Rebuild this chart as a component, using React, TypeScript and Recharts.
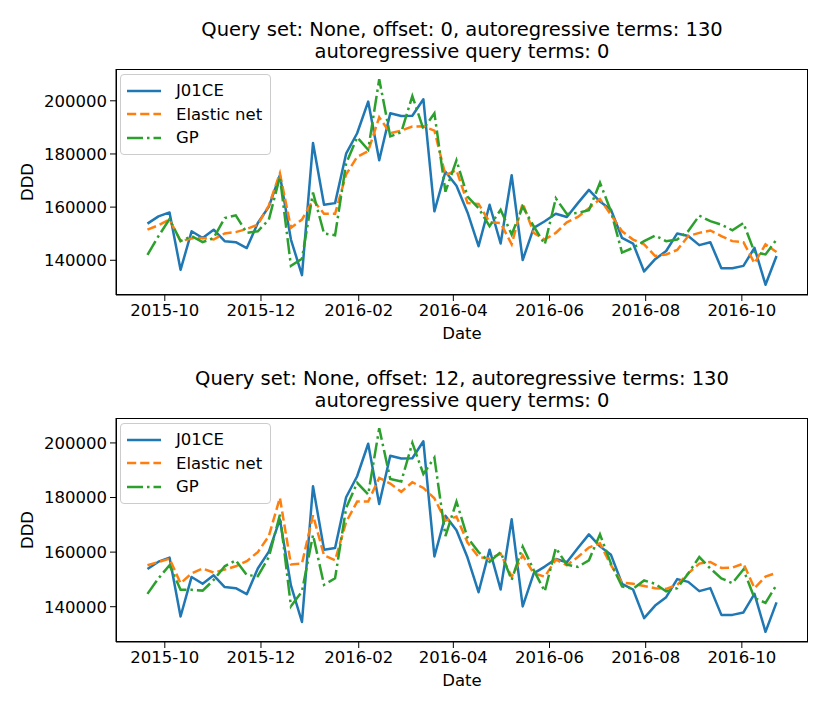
import React from "react";
import { LineChart, Line, XAxis, YAxis, Legend } from "recharts";

// weekly observations (Sundays)
const dates = [
  "2015-09-20", "2015-09-27", "2015-10-04", "2015-10-11", "2015-10-18", "2015-10-25",
  "2015-11-01", "2015-11-08", "2015-11-15", "2015-11-22", "2015-11-29", "2015-12-06",
  "2015-12-13", "2015-12-20", "2015-12-27", "2016-01-03", "2016-01-10", "2016-01-17",
  "2016-01-24", "2016-01-31", "2016-02-07", "2016-02-14", "2016-02-21", "2016-02-28",
  "2016-03-06", "2016-03-13", "2016-03-20", "2016-03-27", "2016-04-03", "2016-04-10",
  "2016-04-17", "2016-04-24", "2016-05-01", "2016-05-08", "2016-05-15", "2016-05-22",
  "2016-05-29", "2016-06-05", "2016-06-12", "2016-06-19", "2016-06-26", "2016-07-03",
  "2016-07-10", "2016-07-17", "2016-07-24", "2016-07-31", "2016-08-07", "2016-08-14",
  "2016-08-21", "2016-08-28", "2016-09-04", "2016-09-11", "2016-09-18", "2016-09-25",
  "2016-10-02", "2016-10-09", "2016-10-16", "2016-10-23",
];

const j01ce = [
  153800, 156500, 158000, 136400, 150900, 148400, 151500, 147200, 146800, 144600,
  154000, 160200, 172000, 147800, 134400, 184100, 160900, 161500, 180100,
  187800, 199700, 177600, 195300, 194300, 194400, 200600, 158400, 173300, 168000,
  158000, 145300, 160900, 146300, 172000, 140100, 152200, 154700, 157500, 156300,
  161500, 166500, 162100, 159000, 148400, 146300, 135800, 140400, 143500, 150100,
  149100, 145700, 146800, 137000, 137000, 137900, 144700, 130800, 141600,
];

// offset 0
const enetTop = [
  151500, 153200, 155300, 147200, 148200, 148400, 147800, 150100, 150600, 151800,
  153400, 160600, 172700, 152200, 155300, 162700, 157500, 157500, 172300,
  178900, 181100, 193800, 187800, 188800, 190300, 190400, 188800, 172000, 173900,
  161500, 161200, 154300, 154000, 146000, 161500, 150300, 147800, 150300, 154300,
  156300, 159600, 163000, 157100, 150900, 147800, 146000, 141600, 142200, 143900,
  149100, 150300, 151200, 149100, 147200, 146800, 138900, 146000, 143100,
];
const gpTop = [
  142000, 149100, 155500, 147200, 149100, 146800, 148400, 155900, 156900, 150300,
  150900, 155300, 171400, 137900, 140600, 165500, 150100, 149400, 176400,
  186300, 181600, 208100, 186600, 188200, 201800, 189400, 195300, 165800, 177600,
  164000, 159600, 152800, 159000, 149700, 160200, 152800, 146000, 163300, 157400,
  157800, 158800, 169200, 158400, 142900, 144700, 147200, 149300, 147200, 147800,
  151000, 156800, 154700, 153400, 151300, 154000, 143100, 142200, 147800,
];

// offset 12
const enetBottom = [
  155200, 156400, 157600, 148600, 152200, 154000, 152500, 153600, 154800, 156700,
  160000, 165900, 179900, 155500, 155800, 173500, 158800, 157000, 171000,
  178500, 178500, 187200, 185100, 182100, 185600, 183500, 179700, 171500, 173000,
  163500, 158200, 157600, 159400, 151000, 158800, 152200, 151000, 157300, 155200,
  158200, 161700, 163200, 155200, 148800, 148400, 147600, 146800, 146500, 148000,
  152200, 155800, 156400, 154200, 154300, 155800, 146800, 151000, 152400,
];
const gpBottom = [
  144700, 150400, 155200, 146200, 146200, 145900, 149800, 154800, 157000, 151600,
  151200, 158200, 173700, 140200, 145600, 166300, 148000, 150400, 176100,
  185400, 181100, 205400, 186800, 185900, 200000, 188600, 194600, 165900, 178500,
  165300, 160000, 156400, 160000, 149800, 162000, 153400, 145600, 161500, 155400,
  154600, 157000, 166500, 155800, 147400, 146600, 149600, 148400, 145600, 146800,
  152200, 158200, 154000, 150400, 148600, 153600, 143200, 141400, 148000,
];

const monthTicks = ["2015-10-01", "2015-12-01", "2016-02-01", "2016-04-01", "2016-06-01", "2016-08-01", "2016-10-01"];
const yTicks = [140000, 160000, 180000, 200000];

const FONT = "'DejaVu Sans', sans-serif";
const BLUE = "#1f77b4";
const ORANGE = "#ff7f0e";
const GREEN = "#2ca02c";

const toTime = (d: string) => Date.parse(d + "T00:00:00Z");
const fmtMonth = (t: number) => new Date(t).toISOString().slice(0, 7);

function pad(lo: number, hi: number): [number, number] {
  const m = (hi - lo) * 0.05;
  return [lo - m, hi + m];
}

const LegendBox = () => (
  <div style={{
    border: "1px solid #cccccc", borderRadius: 4, background: "rgba(255,255,255,0.8)",
    padding: "4px 8px 4px 6px", fontFamily: FONT, fontSize: 16.5, color: "#000", lineHeight: "23.5px",
  }}>
    {[
      { name: "J01CE", color: BLUE, dash: undefined },
      { name: "Elastic net", color: ORANGE, dash: "9.2 4" },
      { name: "GP", color: GREEN, dash: "16 4 2.5 4" },
    ].map((s) => (
      <div key={s.name} style={{ display: "flex", alignItems: "center" }}>
        <svg width={34} height={10} style={{ marginRight: 15 }}>
          <line x1={0} y1={5} x2={34} y2={5} stroke={s.color} strokeWidth={2.5} strokeDasharray={s.dash} />
        </svg>
        <span>{s.name}</span>
      </div>
    ))}
  </div>
);

function Panel({ top, title, enet, gp, plotTop, plotBottom }: {
  top: number; title: string[]; enet: number[]; gp: number[]; plotTop: number; plotBottom: number;
}) {
  const rows = dates.map((d, i) => ({ t: toTime(d), actual: j01ce[i], enet: enet[i], gp: gp[i] }));
  const t0 = rows[0].t;
  const t1 = rows[rows.length - 1].t;
  const xDomain = pad(t0, t1);
  const all = [...j01ce, ...enet, ...gp];
  const yDomain = pad(Math.min(...all), Math.max(...all));
  const H = 356;
  const xAxisH = 30;
  const tickStyle = { fill: "#000", fontSize: 16.5, fontFamily: FONT };

  return (
    <div style={{ position: "absolute", left: 0, top, width: 830, height: H }}>
      <div style={{
        position: "absolute", left: 116, width: 692, top: plotTop - 50, textAlign: "center",
        fontFamily: FONT, fontSize: 19.5, lineHeight: "22px", color: "#000",
      }}>
        {title.map((l) => <div key={l}>{l}</div>)}
      </div>
      <div style={{
        position: "absolute", left: 116, width: 692, top: plotBottom + 29, textAlign: "center",
        fontFamily: FONT, fontSize: 16.5, color: "#000",
      }}>Date</div>
      <div style={{
        position: "absolute", left: 27, top: (plotTop + plotBottom) / 2, transform: "translate(-50%,-50%) rotate(-90deg)",
        fontFamily: FONT, fontSize: 16.5, color: "#000",
      }}>DDD</div>
      <LineChart width={830} height={H} data={rows}
        margin={{ top: plotTop, right: 22, bottom: H - plotBottom - xAxisH, left: 16 }}>
        <XAxis dataKey="t" type="number" domain={xDomain} ticks={monthTicks.map(toTime)} tickFormatter={fmtMonth}
          allowDataOverflow height={xAxisH} tick={tickStyle} tickSize={6} tickMargin={3}
          axisLine={{ stroke: "#000" }} tickLine={{ stroke: "#000" }} />
        <YAxis type="number" domain={yDomain} ticks={yTicks} allowDataOverflow width={100} tick={tickStyle}
          tickSize={6} tickMargin={3} axisLine={{ stroke: "#000" }} tickLine={{ stroke: "#000" }} />
        <Legend layout="horizontal" verticalAlign="middle" align="center" content={() => <LegendBox />}
          wrapperStyle={{ left: 120, top: plotTop + 5, width: "auto", height: "auto" }} />
        <Line type="linear" dataKey="actual" name="J01CE" stroke={BLUE} strokeWidth={2.5} dot={false}
          isAnimationActive={false} strokeLinejoin="round" />
        <Line type="linear" dataKey="enet" name="Elastic net" stroke={ORANGE} strokeWidth={2.5} dot={false}
          strokeDasharray="9.2 4" isAnimationActive={false} />
        <Line type="linear" dataKey="gp" name="GP" stroke={GREEN} strokeWidth={2.5} dot={false}
          strokeDasharray="16 4 2.5 4" isAnimationActive={false} />
      </LineChart>
      {/* axes frame */}
      <div style={{
        position: "absolute", left: 116, top: plotTop, width: 692, height: plotBottom - plotTop,
        border: "1px solid #000", boxSizing: "border-box", pointerEvents: "none",
      }} />
    </div>
  );
}

export default function App() {
  return (
    <div style={{ position: "absolute", left: 0, top: 0, width: 830, height: 712, background: "#fff" }}>
      <Panel top={0} plotTop={69} plotBottom={295} enet={enetTop} gp={gpTop}
        title={["Query set: None, offset: 0, autoregressive terms: 130", "autoregressive query terms: 0"]} />
      <Panel top={356} plotTop={62} plotBottom={286} enet={enetBottom} gp={gpBottom}
        title={["Query set: None, offset: 12, autoregressive terms: 130", "autoregressive query terms: 0"]} />
    </div>
  );
}
